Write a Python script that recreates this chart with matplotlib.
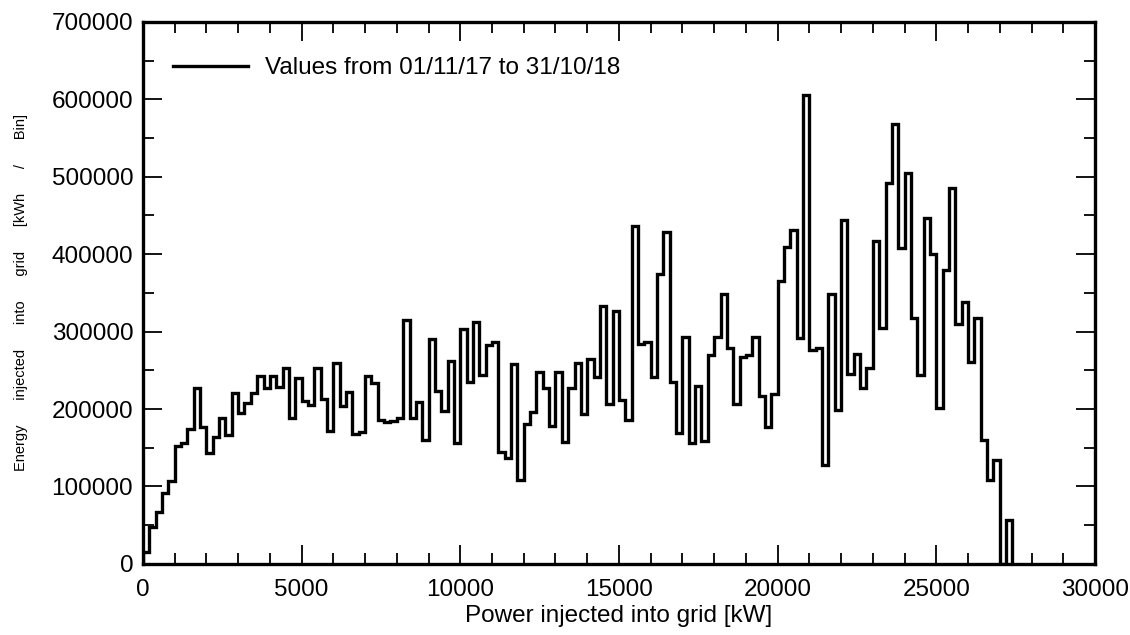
import matplotlib

matplotlib.use("Agg")
import matplotlib.pyplot as plt
import numpy as np
from matplotlib.ticker import MultipleLocator

plt.rcParams["font.family"] = ["Liberation Sans", "DejaVu Sans"]

# 200 kW bins starting at 0 kW
BIN_WIDTH = 200
energy = [
    15000, 48000, 67600, 91000, 107600, 152000, 156700, 174000, 227800, 177400,
    143800, 164500, 189000, 166700, 220500, 194700, 207600, 221300, 243300, 227000,
    243000, 228000, 253600, 188000, 240700, 210600, 205400, 253600, 212800, 172200,
    259300, 204100, 221800, 167500, 170000, 242900, 233400, 186000, 183000, 185000,
    188000, 315000, 188200, 209700, 160000, 290000, 223000, 198000, 262000, 156000,
    303000, 235000, 313000, 244000, 283000, 287000, 144000, 137000, 258000, 108000,
    181000, 196000, 248000, 227000, 178000, 248000, 157000, 227000, 259000, 193000,
    265000, 242000, 333000, 206000, 327000, 212000, 186000, 436000, 284000, 287000,
    242000, 375000, 429000, 235500, 169600, 292900, 156700, 230000, 159300, 270000,
    292900, 348800, 278700, 206700, 267000, 270000, 292900, 216200, 176600, 219600,
    365600, 408700, 431500, 291600, 605000, 275600, 278700, 127900, 348800, 199000,
    444400, 245500, 271300, 227000, 252800, 416400, 304500, 491900, 568700, 407900,
    505100, 317500, 244200, 446100, 400500, 201100, 379100, 486100, 310100, 337600,
    260200, 317500, 160200, 108000, 134000, 0, 57000,
]
edges = np.arange(len(energy) + 1) * BIN_WIDTH

fig = plt.figure(figsize=(11.3, 6.35), dpi=100)
ax = fig.add_axes([0.1265, 0.112, 0.8425, 0.8535])

ax.stairs(energy, edges, baseline=0, color="black", lw=2.4,
          label="Values from 01/11/17 to 31/10/18")

ax.set_xlim(0, 30000)
ax.set_ylim(0, 700000)
ax.xaxis.set_major_locator(MultipleLocator(5000))
ax.xaxis.set_minor_locator(MultipleLocator(1000))
ax.yaxis.set_major_locator(MultipleLocator(100000))
ax.yaxis.set_minor_locator(MultipleLocator(50000))
ax.tick_params(which="both", direction="in", top=True, right=True,
               labelsize=17.5, width=1.3)
ax.tick_params(which="major", length=13.5)
ax.tick_params(which="minor", length=8)
ax.tick_params(axis="x", which="major", pad=11)
ax.tick_params(axis="y", which="major", pad=7)
for sp in ax.spines.values():
    sp.set_linewidth(2.4)

ax.set_xlabel("Power injected into grid [kW]", fontsize=17.5, labelpad=3)
gap = " " * 6
ax.set_ylabel(gap.join(["Energy", "injected", "into", "grid", "[kWh", "/", "Bin]"]),
              fontsize=10.5, labelpad=17)

ax.legend(loc="upper left", bbox_to_anchor=(0.021, 0.953), frameon=False,
          fontsize=17.5, handlelength=3.1, handletextpad=0.7, borderaxespad=0)

fig.savefig("out.png", dpi=100)
